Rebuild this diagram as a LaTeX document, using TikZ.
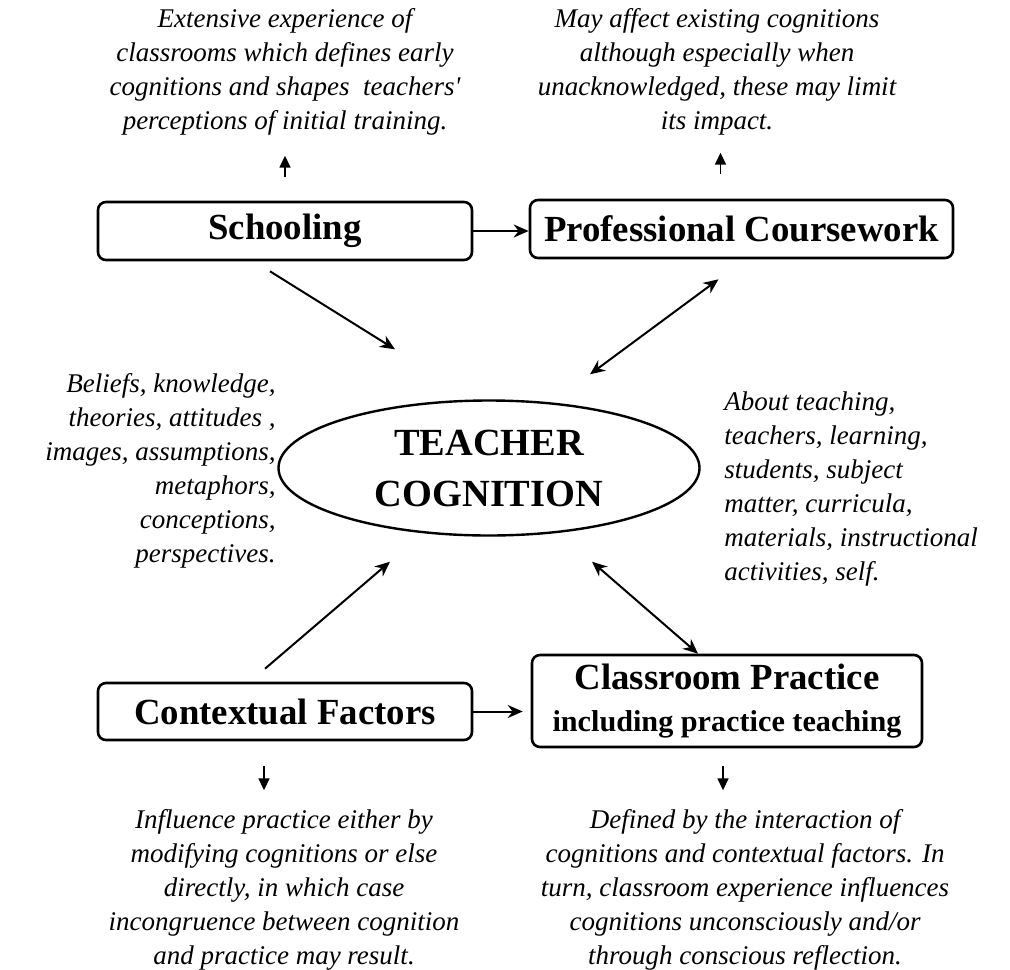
\documentclass[tikz,border=0pt]{standalone}
\usepackage{fontspec}
\setmainfont{Liberation Serif}
\usetikzlibrary{arrows.meta,shapes.geometric}

\begin{document}
\begin{tikzpicture}[x=0.5pt, y=-0.5pt,
  factor/.style={draw, rounded corners=4pt, line width=1.3pt, align=center,
    font=\fontsize{18.4}{22}\selectfont\bfseries, inner sep=0pt},
  core/.style={draw, ellipse, line width=1.2pt, align=center, inner sep=0pt,
    minimum width=210.5pt, minimum height=67.5pt,
    font=\fontsize{19.2}{25.5}\selectfont\bfseries},
  note/.style={align=center, inner sep=0pt, font=\fontsize{13.5}{17}\selectfont\itshape},
  link/.style={line width=1pt, -{Stealth[length=7.5pt, width=6.5pt]}},
  dlink/.style={line width=1pt, {Stealth[length=7.5pt, width=6.5pt]}-{Stealth[length=7.5pt, width=6.5pt]}},
  pointer/.style={line width=0.8pt, -{Triangle[length=6pt, width=5.5pt]}},
  ]
  \useasboundingbox (0,0) rectangle (1010,969);
  % the four sources and the centre
  \node[factor, minimum width=187pt, minimum height=29pt] (school) at (285,231) {Schooling};
  \node[factor, minimum width=211.5pt, minimum height=29pt] (prof) at (741.5,229) {Professional Coursework};
  \node[factor, minimum width=187pt, minimum height=28.5pt] (context) at (285,711.5) {Contextual Factors};
  \node[factor, minimum width=195pt, minimum height=46pt] (class) at (727,701)
    {Classroom Practice\\[-1pt]{\fontsize{15.1}{18}\selectfont including practice teaching}};
  \node[core] (cog) at (489,468) {TEACHER\\COGNITION};
  % connectors
  \draw[link] (school.east) -- (school.east -| prof.west);
  \draw[link, shorten >=4pt] (context.east) -- (context.east -| class.west);
  \draw[link] ([xshift=-7.5pt, yshift=-5pt]school.south) -- ([xshift=-47pt, yshift=25pt]cog.north);
  \draw[dlink] ([xshift=-11.5pt, yshift=-10pt]prof.south) -- ([xshift=50.5pt, yshift=12.5pt]cog.north);
  \draw[link] ([xshift=-10pt, yshift=6.5pt]context.north) -- ([xshift=-49.5pt, yshift=-12.5pt]cog.south);
  \draw[dlink] ([xshift=51.5pt, yshift=-12.5pt]cog.south) -- ([xshift=-14.5pt]class.north);
  % small pointers to the notes
  \draw[pointer] ([yshift=12pt]school.north) -- ++(0,-21);
  \draw[pointer] ([xshift=-10.5pt, yshift=12.5pt]prof.north) -- ++(0,-21);
  \draw[pointer] ([xshift=-10.5pt, yshift=-12.5pt]context.south) -- ++(0,24);
  \draw[pointer] ([xshift=-2pt, yshift=-9pt]class.south) -- ++(0,24);
  % notes
  \node[note] (n1) at (285,72) {Extensive experience of\\classrooms which defines early\\cognitions and shapes\ \ teachers\textquotesingle\\perceptions of initial training.};
  \node[note] (n2) at (717,72) {May affect existing cognitions\\although especially when\\unacknowledged, these may limit\\its impact.};
  \node[note, align=right, anchor=east] (n3) at (276,471) {Beliefs, knowledge,\\theories, attitudes ,\\images, assumptions,\\metaphors,\\conceptions,\\perspectives.};
  \node[note, align=left, anchor=west] (n4) at (724,489) {About teaching,\\teachers, learning,\\students, subject\\matter, curricula,\\materials, instructional\\activities, self.};
  \node[note] (n5) at (284,890) {Influence practice either by\\modifying cognitions or else\\directly, in which case\\incongruence between cognition\\and practice may result.};
  \node[note] (n6) at (745,890) {Defined by the interaction of\\cognitions and contextual factors. In\\turn, classroom experience influences\\cognitions unconsciously and/or\\through conscious reflection.};
\end{tikzpicture}
\end{document}
